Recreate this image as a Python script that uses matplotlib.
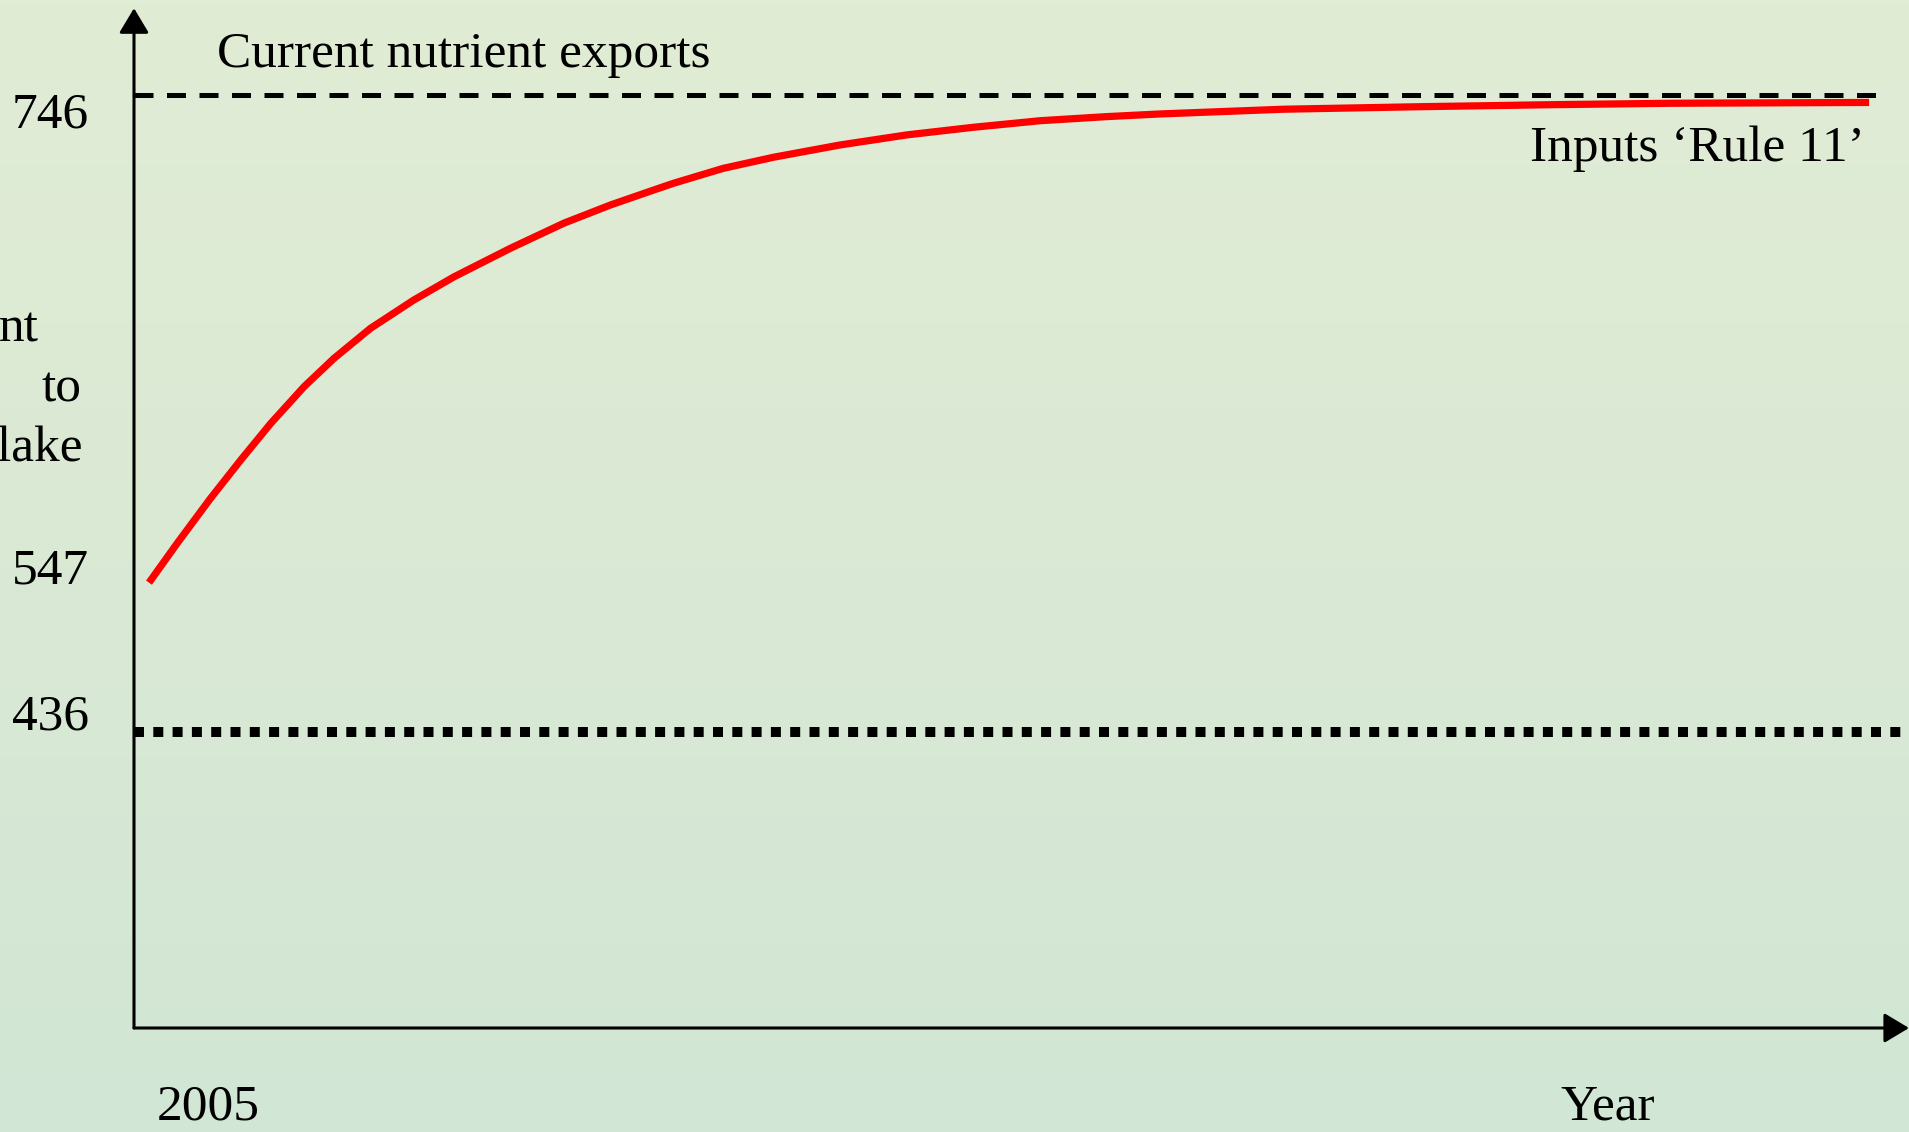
import numpy as np
import matplotlib
matplotlib.use('Agg')
import matplotlib.pyplot as plt
from matplotlib.colors import LinearSegmentedColormap

# schematic nutrient load curve, years since 2005 vs load
t_years = [0.0, 0.82, 1.79, 2.67, 3.54, 4.51, 5.38, 6.44, 7.70, 8.87,
           10.51, 12.06, 13.42, 14.68, 15.24, 16.69, 18.15, 20.09, 22.03, 23.96,
           25.90, 27.84, 29.39, 32.97, 36.85, 40.73, 44.22, 50.0]
load = [508.7, 527.9, 549.8, 568.5, 586.3, 604.2, 618.0, 632.6, 646.4, 657.7,
        671.6, 683.8, 692.7, 700.0, 703.2, 710.5, 715.9, 721.9, 726.8, 730.5,
        733.7, 735.7, 737.0, 739.3, 740.5, 741.5, 742.2, 742.6]

exports_level = 746   # dashed line, current nutrient exports
target_level = 436    # dotted line
ytick_labels = ['746', '547', '436']
ylabel_parts = ['nt', 'to', 'lake']

W, H = 1909, 1132
fig = plt.figure(figsize=(W/100, H/100), dpi=100)
plt.rcParams['font.family'] = ['Liberation Serif', 'DejaVu Serif']
fs = 37

# background wash
bg = fig.add_axes([0, 0, 1, 1], zorder=-5)
cmap = LinearSegmentedColormap.from_list('bg', ['#e1ecd4', '#dae9d4', '#d1e6d5'])
grad = np.linspace(0, 1, 256).reshape(-1, 1)
bg.imshow(grad, cmap=cmap, aspect='auto', extent=[0, 1, 0, 1])
bg.axis('off')

# main axes spans from the y-axis line to the right edge
x0, y0 = 134, 1028
ax = fig.add_axes([x0/W, 1 - y0/H, (W - x0)/W, y0/H])
ax.set_facecolor('none')
ax.set_xlim(-0.436, 51.16)
ax.set_ylim(291.8, 792.5)
for s in ax.spines.values():
    s.set_visible(False)
ax.set_xticks([]); ax.set_yticks([])

# axes with arrow heads
arw = dict(arrowstyle='-|>,head_length=0.4,head_width=0.24', lw=2.2, color='k',
           mutation_scale=38, shrinkA=0, shrinkB=0)
ax.annotate('', xy=(0, 0.992), xytext=(0, 0), xycoords='axes fraction', arrowprops=arw)
ax.annotate('', xy=(1.0, 0), xytext=(0, 0), xycoords='axes fraction', arrowprops=arw)

ax.hlines(exports_level, -0.436, 50.41, colors='k', lw=3.6, linestyles=(0, (3.8, 2.7)),
          capstyle='butt')
ax.hlines(target_level, -0.436, 51.16, colors='k', lw=7.2, linestyles=(0, (1.0, 0.93)),
          capstyle='butt')
ax.plot(t_years, load, color='#ff0000', lw=5.2, solid_capstyle='butt', solid_joinstyle='round')

def ptext(x, y, s, ha='left'):
    fig.text(x/W, 1 - y/H, s, ha=ha, va='baseline', fontsize=fs, color='k')

ptext(217, 67, 'Current nutrient exports')
ptext(1865, 161, 'Inputs \u2018Rule 11\u2019', ha='right')
ptext(89, 128, ytick_labels[0], ha='right')
ptext(89, 583, ytick_labels[1], ha='right')
ptext(89, 729, ytick_labels[2], ha='right')
ptext(39, 342, ylabel_parts[0], ha='right')
ptext(82, 401, ylabel_parts[1], ha='right')
ptext(82, 462, ylabel_parts[2], ha='right')
ptext(208, 1120, '2005', ha='center')
ptext(1608, 1120, 'Year', ha='center')

fig.savefig('out.png', dpi=100)
